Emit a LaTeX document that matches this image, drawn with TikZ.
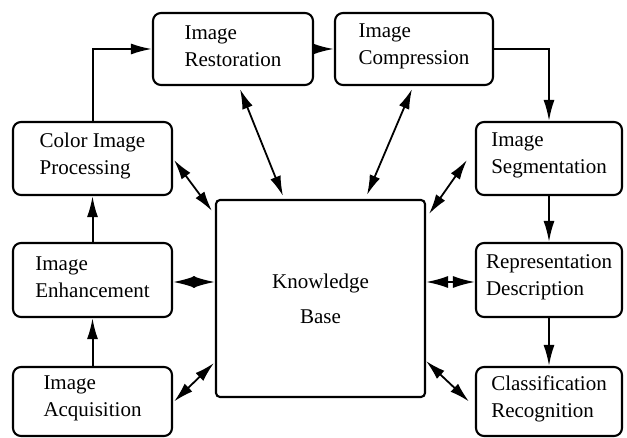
\documentclass[tikz,border=0pt]{standalone}
\usepackage{fontspec}
\setmainfont{Liberation Serif}
\usetikzlibrary{arrows.meta,calc}
\begin{document}
\begin{tikzpicture}[x=1pt,y=-1pt,
  box/.style={draw,line width=2.1pt,rounded corners=8pt,align=left,inner sep=0pt,
    font=\fontsize{21}{27}\selectfont},
  raised/.style={label={[box,draw=none,anchor=center,yshift=3pt]center:#1}},
  flow/.style={line width=2pt,-{Latex[length=21pt,width=11pt]}},
  link/.style={line width=1.8pt,{Latex[length=20pt,width=11pt]}-{Latex[length=20pt,width=11pt]}},
  hlink/.style={line width=1.8pt,{Latex[length=22pt,width=12pt]}-{Latex[length=22pt,width=12pt]}}]
\useasboundingbox (0,0) rectangle (627,438);
\node[box,minimum width=160pt,minimum height=72pt,raised={Image\\Restoration}] (rest) at (233,49) {};
\node[box,minimum width=158pt,minimum height=72pt,raised={Image\\Compression}] (comp) at (414,49) {};
\node[box,minimum width=146pt,minimum height=73pt,raised={Image\\Segmentation}] (seg) at (549,158.5) {};
\node[box,minimum width=146pt,minimum height=74pt,raised={Representation\\Description}] (repr) at (549,280) {};
\node[box,minimum width=146pt,minimum height=69pt,raised={Classification\\Recognition}] (clas) at (549,401.5) {};
\node[box,minimum width=159pt,minimum height=73pt,raised={Color Image\\Processing}] (color) at (92.5,158.5) {};
\node[box,minimum width=159pt,minimum height=74pt,raised={Image\\Enhancement}] (enh) at (92.5,280) {};
\node[box,minimum width=159pt,minimum height=69pt,raised={Image\\Acquisition}] (acq) at (92.5,401.5) {};
\node[draw,line width=2.1pt,rounded corners=4pt,minimum width=209pt,minimum height=197pt,
  align=center,font=\fontsize{21}{35}\selectfont] (kb) at (320.5,298.5) {Knowledge\\Base};
% flow
\draw[flow] (color.north) |- (rest.west);
\draw[flow] (rest.east) -- (comp.west);
\draw[flow] (comp.east) -| (seg.north);
\draw[flow] (seg.south) -- (repr.north);
\draw[flow] (repr.south) -- (clas.north);
\draw[flow] (acq.north) -- (enh.south);
\draw[flow] (enh.north) -- (color.south);
% links to knowledge base
\draw[link] ([xshift=7pt,yshift=-3pt]rest.south) -- ([xshift=-37.5pt,yshift=3pt]kb.north);
\draw[link] ([xshift=-2pt,yshift=-3pt]comp.south) -- ([xshift=46.5pt,yshift=4pt]kb.north);
\draw[link] ([xshift=1pt,yshift=-1.5pt]color.east) -- ([xshift=-3pt,yshift=-12pt]kb.north west);
\draw[link] ([xshift=-8pt,yshift=-1.5pt]seg.west) -- ([xshift=3pt,yshift=-15pt]kb.north east);
\draw[hlink] ([yshift=-2pt]enh.east) -- ([yshift=-2pt]enh.east -| kb.west);
\draw[hlink] ([yshift=-2pt]repr.west) -- ([yshift=-2pt]repr.west -| kb.east);
\draw[link] ([xshift=1pt]acq.east) -- ([xshift=-1pt,yshift=35pt]kb.south west);
\draw[link] ([yshift=37pt]kb.south east) -- ([xshift=-6pt]clas.west);
\end{tikzpicture}
\end{document}
